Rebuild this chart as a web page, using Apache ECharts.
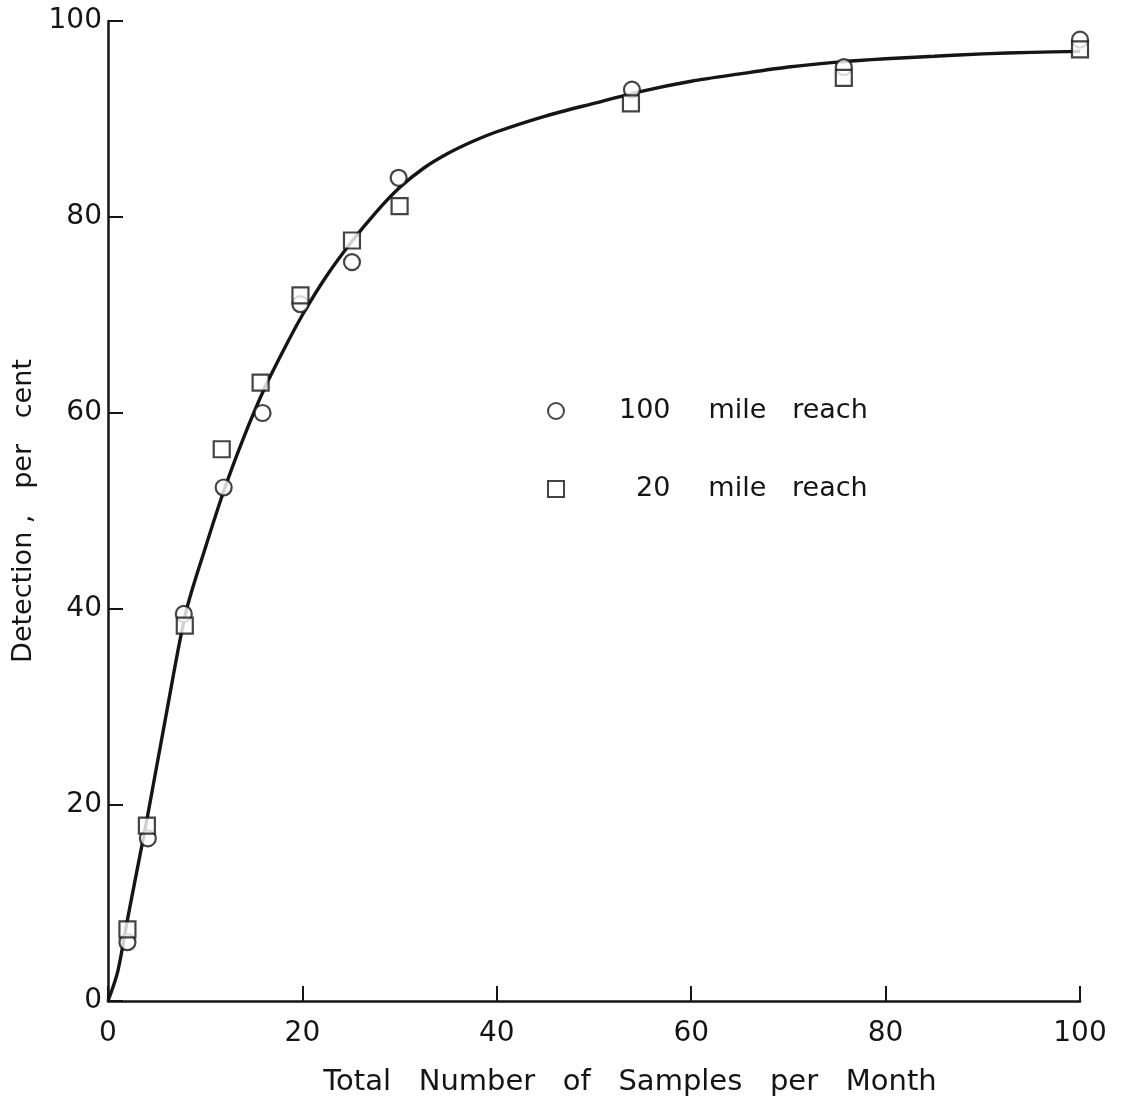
<!DOCTYPE html>
<html>
<head>
<meta charset="utf-8">
<script src="https://cdn.jsdelivr.net/npm/echarts@6/dist/echarts.min.js"></script>
<style>
html,body{margin:0;padding:0;background:#fff;}
#chart{width:1126px;height:1098px;}
</style>
</head>
<body>
<div id="chart"></div>
<script>
// Observed points, 100 mile reach (circles)
const reach100X = [2, 4.1, 7.8, 11.9, 15.9, 19.8, 25.1, 29.9, 53.9, 75.7, 100];
const reach100Y = [6.0, 16.6, 39.5, 52.4, 60.0, 71.1, 75.4, 84.0, 93.0, 95.3, 98.1];
// Observed points, 20 mile reach (squares)
const reach20X = [2, 4.0, 7.9, 11.7, 15.7, 19.8, 25.1, 30.0, 53.8, 75.7, 100];
const reach20Y = [7.3, 17.9, 38.3, 56.3, 63.1, 72.0, 77.6, 81.1, 91.6, 94.2, 97.1];
// Fitted curve
const curveX = [0, 1, 2, 3, 4, 6, 8, 10, 12, 14, 16, 18, 20, 22.5, 25, 27.5, 30, 32.5, 35, 37.5, 40, 45, 50, 55, 60, 65, 70, 75, 80, 85, 90, 95, 100];
const curveY = [0, 3, 8.3, 13.4, 18.5, 29.3, 39.6, 46.2, 52.3, 57.6, 62.3, 66.3, 70, 74, 77.4, 80.4, 83, 85, 86.5, 87.7, 88.7, 90.3, 91.6, 92.85, 93.85, 94.6, 95.3, 95.8, 96.15, 96.4, 96.65, 96.8, 96.9];
const seriesNames = ['100 mile reach', '20 mile reach'];
const xTitle = 'Total   Number   of   Samples   per   Month';
const yTitle = 'Detection ,   per   cent';

const zip = (a, b) => a.map((v, i) => [v, b[i]]);
const FONT = "'DejaVu Sans', sans-serif";
const INK = '#151515';

const chart = echarts.init(document.getElementById('chart'), null, {renderer: 'canvas'});
const axisCommon = {
  type: 'value', min: 0, max: 100, interval: 20,
  axisLine: {show: true, lineStyle: {color: INK, width: 2.5}},
  axisTick: {show: true, inside: true, length: 15, lineStyle: {color: INK, width: 2}},
  splitLine: {show: false},
  nameLocation: 'middle'
};
const markerStyle = {color: '#fff', borderColor: INK, borderWidth: 2.2};
const legendText = {fontFamily: FONT, fontSize: 27, color: INK, lineHeight: 34};

chart.setOption({
  backgroundColor: '#fff',
  animation: false,
  grid: {left: 108, right: 46, top: 21, bottom: 97, containLabel: false, outerBoundsMode: 'none'},
  xAxis: Object.assign({}, axisCommon, {
    name: xTitle, nameGap: 67,
    nameTextStyle: {fontFamily: FONT, fontSize: 29, color: INK, padding: [0, 0, 0, 72]},
    axisLabel: {fontFamily: FONT, fontSize: 28, color: INK, margin: 19}
  }),
  yAxis: Object.assign({}, axisCommon, {
    name: yTitle, nameGap: 70,
    nameTextStyle: {fontFamily: FONT, fontSize: 27, color: INK},
    axisLabel: {fontFamily: FONT, fontSize: 28, color: INK, margin: 6}
  }),
  legend: {
    left: 542, top: 389, orient: 'vertical', selectedMode: false,
    itemWidth: 16, itemHeight: 16, itemGap: 44,
    data: [{name: seriesNames[0], icon: 'circle'}, {name: seriesNames[1], icon: 'rect'}],
    formatter: function (name) {
      const i = name.indexOf(' ');
      const num = name.slice(0, i);
      return '{n' + num.length + '|' + num + '}{t|' + name.slice(i + 1).replace(' ', '   ') + '}';
    },
    textStyle: Object.assign({}, legendText, {
      rich: {
        n3: Object.assign({}, legendText, {padding: [0, 0, 0, 50]}),
        n2: Object.assign({}, legendText, {padding: [0, 0, 0, 67]}),
        t: Object.assign({}, legendText, {padding: [0, 0, 0, 38]})
      }
    })
  },
  series: [
    {
      type: 'line', name: 'curve', data: zip(curveX, curveY), smooth: 0.3,
      showSymbol: false, symbol: 'none', silent: true, z: 1,
      lineStyle: {color: INK, width: 3.4}
    },
    {
      type: 'scatter', name: seriesNames[0], data: zip(reach100X, reach100Y),
      symbol: 'circle', symbolSize: 16, z: 3, itemStyle: markerStyle
    },
    {
      type: 'scatter', name: seriesNames[1], data: zip(reach20X, reach20Y),
      symbol: 'rect', symbolSize: 16, z: 4, itemStyle: markerStyle
    }
  ]
});
</script>
</body>
</html>
